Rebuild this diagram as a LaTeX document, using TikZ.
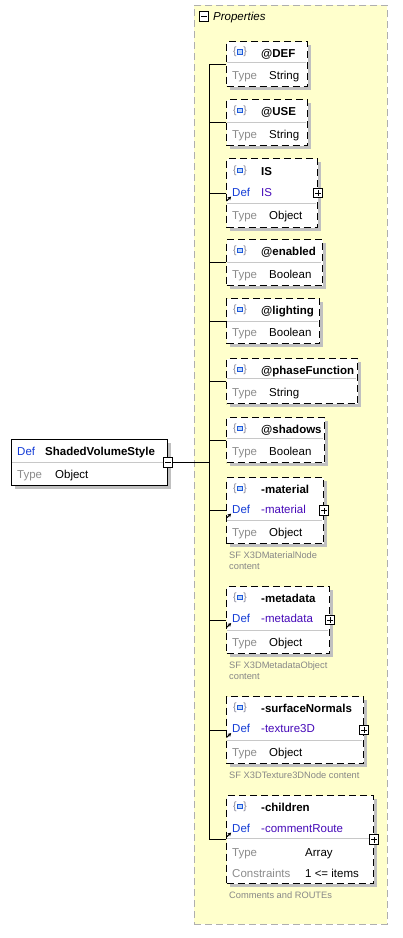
\documentclass[tikz,border=0pt]{standalone}
\usepackage{fontspec}
\setmainfont{Liberation Sans}
\usetikzlibrary{arrows.meta}
\definecolor{propsfill}{RGB}{255,255,204}
\definecolor{propsborder}{RGB}{175,175,175}
\definecolor{shadowc}{RGB}{192,192,192}
\definecolor{divc}{RGB}{200,200,200}
\definecolor{graytxt}{RGB}{140,140,140}
\definecolor{notegray}{RGB}{135,135,135}
\definecolor{defblue}{RGB}{20,60,215}
\definecolor{defval}{RGB}{70,10,185}
\definecolor{iconblue}{RGB}{30,90,220}
\definecolor{iconfill}{RGB}{190,215,250}
\definecolor{icongray}{RGB}{130,130,150}
\tikzset{
  conn/.style={draw=black, line width=1pt},
  elembox/.style={draw=black, line width=1.1pt, dash pattern=on 7pt off 4pt, fill=white, inner sep=0pt, anchor=north west},
  mainbox/.style={draw=black, line width=1pt, fill=white, inner sep=0pt, anchor=north west},
  container/.style={draw=propsborder, line width=0.9pt, dash pattern=on 7pt off 4pt, fill=propsfill, inner sep=0pt, anchor=north west},
  expbox/.style={draw=black, line width=0.9pt, fill=white, minimum size=9.5pt, inner sep=0pt},
  txt/.style={anchor=base west, inner sep=0pt, font=\fontsize{11.5}{13}\selectfont},
  nm/.style={txt, font=\bfseries\fontsize{11.5}{13}\selectfont},
  ty/.style={txt, text=graytxt},
  dl/.style={txt, text=defblue},
  dv/.style={txt, text=defval},
  note/.style={anchor=base west, inner sep=0pt, text=notegray, font=\fontsize{9.3}{10.5}\selectfont, align=left},
  refarrow/.style={-{Stealth[length=3.5pt,width=3.8pt]}, line width=1pt},
}
% element box with shadow: name, top, right, bottom, divider y (left fixed at 226)
\newcommand{\xelem}[5]{%
  \fill[shadowc] (230,#2+4) rectangle (#3+4,#4+4);
  \node[elembox, minimum width={#3-226}, minimum height={#4-#2}] (#1) at (226,#2) {};
  \draw[divc, line width=1pt] (227,#5) -- (#3-1,#5);
}
% icon {[]} : left x, centre y
\newcommand{\xicon}[2]{%
  \node[anchor=west, inner sep=0pt, text=icongray, font=\fontsize{10.5}{11}\selectfont] at (#1,#2) {\{};
  \node[anchor=east, inner sep=0pt, text=icongray, font=\fontsize{10.5}{11}\selectfont] at (#1+14,#2) {\}};
  \draw[iconblue, fill=iconfill, line width=0.9pt] (#1+4.3,#2-2.4) rectangle (#1+9.7,#2+2.4);
}
% reference arrow before Def: baseline y
\newcommand{\xrefarrow}[1]{%
  \draw[refarrow] (226.5,#1+5) -- (231.2,#1+0.6);
}
\newcommand{\xplus}[1]{%
  \node[expbox] (#1-plus) at (#1.east) {};
  \draw[line width=0.9pt] ([xshift=-3pt]#1-plus.center) -- ([xshift=3pt]#1-plus.center);
  \draw[line width=0.9pt] ([yshift=-3pt]#1-plus.center) -- ([yshift=3pt]#1-plus.center);
}
\begin{document}
\begin{tikzpicture}[x=1pt,y=-1pt]
\useasboundingbox (0,0) rectangle (403,938);

% Properties container
\node[container, minimum width=193, minimum height=919] (props) at (194,5) {};
\node[expbox] (propsminus) at (204,16.5) {};
\draw[line width=0.9pt] ([xshift=-3pt]propsminus.center) -- ([xshift=3pt]propsminus.center);
\node[txt, font=\itshape\fontsize{11.5}{13}\selectfont] (propslabel) at (213,20.5) {Properties};

\coordinate (trunk) at (209.5,0);

% main element
\fill[shadowc] (15,443) rectangle (171,489);
\node[mainbox, minimum width=156, minimum height=46] (main) at (11,439) {};
\draw[divc, line width=1pt] (12,462) -- (166,462);
\node[dl] (main-def) at (17,455) {Def};
\node[nm] (main-name) at (45,455) {ShadedVolumeStyle};
\node[ty] (main-type) at (17,478) {Type};
\node[txt] (main-typev) at (55,478) {Object};
\node[expbox] (mainminus) at (main.east) {};
\draw[line width=0.9pt] ([xshift=-3pt]mainminus.center) -- ([xshift=3pt]mainminus.center);

% @DEF
\xelem{DEF}{41}{307}{86}{62}
\xicon{233}{52}
\node[nm] (DEF-name) at (261,57) {@DEF};
\node[ty] (DEF-type) at (232,79) {Type};
\node[txt] (DEF-typev) at (269,79) {String};

% @USE
\xelem{USE}{99}{307}{145}{122}
\xicon{233}{110.5}
\node[nm] (USE-name) at (261,115.5) {@USE};
\node[ty] (USE-type) at (232,138) {Type};
\node[txt] (USE-typev) at (269,138) {String};

% IS
\xelem{IS}{158}{317}{227}{203}
\xicon{233}{170.5}
\node[nm] (IS-name) at (261,175) {IS};
\node[dl] (IS-def) at (232,196) {Def};
\node[dv] (IS-defv) at (261,196) {IS};
\node[ty] (IS-type) at (232,219) {Type};
\node[txt] (IS-typev) at (269,219) {Object};
\xrefarrow{196}
\xplus{IS}

% @enabled
\xelem{enabled}{239}{322}{285}{262}
\xicon{233}{250.5}
\node[nm] (enabled-name) at (261,255.5) {@enabled};
\node[ty] (enabled-type) at (232,278) {Type};
\node[txt] (enabled-typev) at (269,278) {Boolean};

% @lighting
\xelem{lighting}{298}{319}{343}{321}
\xicon{233}{309.5}
\node[nm] (lighting-name) at (261,314.5) {@lighting};
\node[ty] (lighting-type) at (232,336) {Type};
\node[txt] (lighting-typev) at (269,336) {Boolean};

% @phaseFunction
\xelem{phase}{358}{357}{403}{378}
\xicon{233}{369.5}
\node[nm] (phase-name) at (261,374.5) {@phaseFunction};
\node[ty] (phase-type) at (232,396) {Type};
\node[txt] (phase-typev) at (269,396) {String};

% @shadows
\xelem{shadows}{417}{324}{462}{438}
\xicon{233}{428.5}
\node[nm] (shadows-name) at (261,433.5) {@shadows};
\node[ty] (shadows-type) at (232,455) {Type};
\node[txt] (shadows-typev) at (269,455) {Boolean};

% -material
\xelem{material}{477}{323}{543}{520}
\xicon{233}{488.5}
\node[nm] (material-name) at (261,493.5) {-material};
\node[dl] (material-def) at (232,513) {Def};
\node[dv] (material-defv) at (261,513) {-material};
\node[ty] (material-type) at (232,536) {Type};
\node[txt] (material-typev) at (269,536) {Object};
\xrefarrow{513}
\xplus{material}
\node[note] (material-note1) at (229,558.5) {SF X3DMaterialNode};
\node[note] (material-note2) at (229,569) {content};

% -metadata
\xelem{metadata}{586}{329}{653}{630}
\xicon{233}{597.5}
\node[nm] (metadata-name) at (261,602.5) {-metadata};
\node[dl] (metadata-def) at (232,622.5) {Def};
\node[dv] (metadata-defv) at (261,622.5) {-metadata};
\node[ty] (metadata-type) at (232,646) {Type};
\node[txt] (metadata-typev) at (269,646) {Object};
\xrefarrow{622.5}
\xplus{metadata}
\node[note] (metadata-note1) at (229,668.7) {SF X3DMetadataObject};
\node[note] (metadata-note2) at (229,679.3) {content};

% -surfaceNormals
\xelem{surface}{696}{363}{763}{740}
\xicon{233}{707.5}
\node[nm] (surface-name) at (261,712.5) {-surfaceNormals};
\node[dl] (surface-def) at (232,732.5) {Def};
\node[dv] (surface-defv) at (261,732.5) {-texture3D};
\node[ty] (surface-type) at (232,756) {Type};
\node[txt] (surface-typev) at (269,756) {Object};
\xrefarrow{732.5}
\xplus{surface}
\node[note] (surface-note) at (229,778.5) {SF X3DTexture3DNode content};

% -children
\xelem{children}{795}{373}{883}{838}
\xicon{233}{806.5}
\node[nm] (children-name) at (261,811) {-children};
\node[dl] (children-def) at (232,832) {Def};
\node[dv] (children-defv) at (261,832) {-commentRoute};
\node[ty] (children-type) at (232,856) {Type};
\node[txt] (children-typev) at (305,856) {Array};
\node[ty] (children-cons) at (232,877) {Constraints};
\node[txt] (children-consv) at (305,877) {1 <= items};
\xrefarrow{832}
\xplus{children}
\node[note] (children-note) at (229,898) {Comments and ROUTEs};

% connectors
\draw[conn] (mainminus.east) -- (mainminus.east -| trunk);
\draw[conn] (DEF.west -| trunk) -- (children.west -| trunk);
\foreach \n in {DEF,USE,IS,enabled,lighting,phase,shadows,material,metadata,surface,children}
  \draw[conn] (\n.west -| trunk) -- (\n.west);
\end{tikzpicture}
\end{document}
